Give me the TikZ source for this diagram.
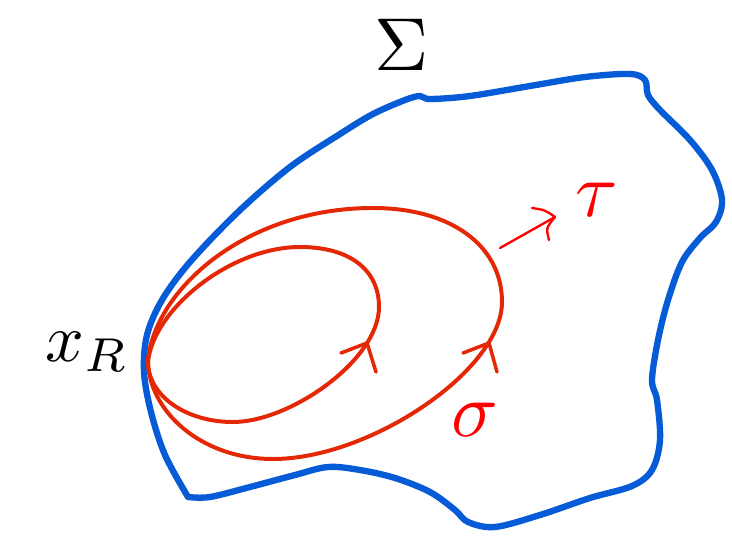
\documentclass[tikz,border=0pt]{standalone}
\usepackage{graphicx}
\definecolor{bblue}{RGB}{5,92,214}
\definecolor{lred}{RGB}{228,40,5}
\definecolor{pred}{RGB}{255,0,0}
\tikzset{
  bound/.style={draw=bblue,line width=5.4pt,line join=round,line cap=round},
  loopc/.style={draw=lred,line width=3.4pt,line join=round,line cap=round},
  barb/.style={draw=lred,line width=3pt,line join=round,line cap=round},
  tauarr/.style={draw=pred,line width=2pt,line cap=round,line join=round},
  lab/.style={inner sep=0pt}
}
\begin{document}
\begin{tikzpicture}[x=0.03cm,y=-0.03cm]
\useasboundingbox (0,0) rectangle (732,542);
% boundary Sigma
\draw[bound] plot[smooth,tension=0.55] coordinates {
(188,497) (165,455) (151,412) (144,372) (147,335) (162,300) (190,262)
(238,212) (290,167) (340,134) (373,114) (405,100) (420,96) (430,99) (470,96) (530,86)
(585,77) (630,74) (645,80) (648,95) (660,110) (690,140) (712,170) (722,200)
(716,222) (700,238) (682,262) (668,300) (658,340) (652,380) (657,400) (660,440)
(652,470) (632,486) (590,498) (540,515) (495,527) (468,522) (455,510) (430,492)
(395,478) (360,470) (328,467) (295,475) (250,487) (210,497) (188,497)};
% outer loop
\coordinate (oL) at (148,360);
\coordinate (oT) at (373,208);
\coordinate (oR) at (502,302);
\coordinate (oB) at (273,459);
\draw[loopc] (oL) .. controls (155,290) and (245,208) .. (oT)
  .. controls (450,208) and (502,245) .. (oR)
  .. controls (502,370) and (370,459) .. (oB)
  .. controls (200,459) and (148,410) .. (oL) -- cycle;
% inner loop
\coordinate (iL) at (148,362);
\coordinate (iT) at (300,247);
\coordinate (iR) at (379,307);
\coordinate (iB) at (233,422);
\draw[loopc] (iL) .. controls (153,310) and (230,247) .. (iT)
  .. controls (350,247) and (379,270) .. (iR)
  .. controls (379,360) and (290,422) .. (iB)
  .. controls (185,422) and (148,395) .. (iL) -- cycle;
% arrowheads
\coordinate (ot) at (489,343);
\coordinate (it) at (367,343);
\draw[barb] (463,353) -- (ot) -- (497,372);
\draw[barb] (341,353) -- (it) -- (376,372);
% tau arrow
\coordinate (ts) at (500,248);
\coordinate (tt) at (555,217);
\draw[tauarr] (ts) -- (tt);
\draw[tauarr] (532,208) .. controls (545,210) .. (tt);
\draw[tauarr] (549,240) .. controls (546,228) .. (tt);
% labels
\node[lab] (S) at (402,45) {\scalebox{6.4}{$\Sigma$}};
\node[lab] (xr) at (87,352) {\scalebox{5.8}{$x_R$}};
\node[lab,text=pred] (sg) at (475,420) {\scalebox{6.6}{$\sigma$}};
\node[lab,text=pred] (ta) at (597,200) {\scalebox{6.6}{$\tau$}};
\end{tikzpicture}
\end{document}
